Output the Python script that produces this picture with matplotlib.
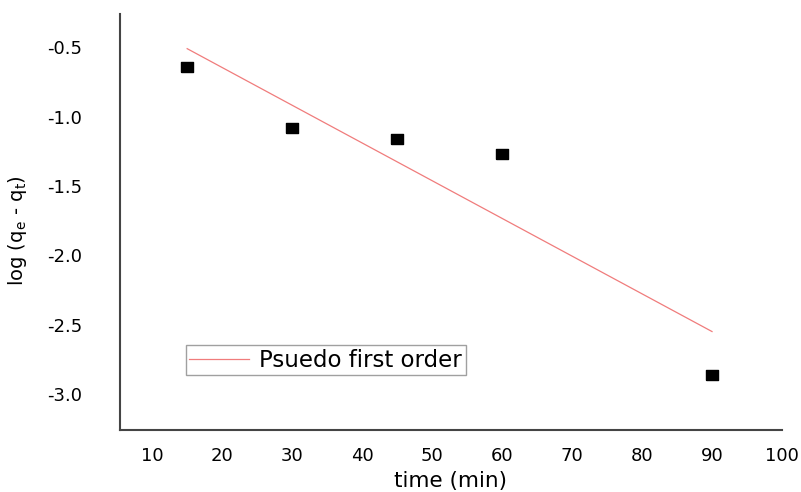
import matplotlib
matplotlib.use("Agg")
from matplotlib import pyplot as plt

# data
time_min = [15, 30, 45, 60, 90]
log_qe_qt = [-0.64, -1.08, -1.16, -1.27, -2.86]

fit_time = [15, 90]
fit_values = [-0.51, -2.55]

x_ticks = [10, 20, 30, 40, 50, 60, 70, 80, 90, 100]
y_ticks = [-0.5, -1.0, -1.5, -2.0, -2.5, -3.0]

plt.rcParams['font.family'] = ['DejaVu Sans']
plt.rcParams['mathtext.default'] = 'regular'

fig = plt.figure(figsize=(8.01, 4.92), dpi=100)
ax = fig.add_axes([120/801, 62/492, 662/801, 416/492])

# slightly flat square marker, like the original
rect = [(-1, -0.75), (1, -0.75), (1, 0.75), (-1, 0.75), (-1, -0.75)]

ax.plot(fit_time, fit_values, '-', color='#f07c7c', lw=0.9, label='Psuedo first order')
ax.plot(time_min, log_qe_qt, ls='none', marker=rect, color='black', ms=9,
        mec='black', label='_nolegend_')

ax.set_xlim(5.4, 100)
ax.set_ylim(-3.26, -0.26)
ax.set_xticks(x_ticks)
ax.set_yticks(y_ticks)
ax.set_xticklabels([str(t) for t in x_ticks])
ax.set_yticklabels(['%.1f' % v for v in y_ticks])
ax.tick_params(axis='both', length=0, labelsize=13)
ax.tick_params(axis='x', pad=12)
ax.tick_params(axis='y', pad=27)

for side in ['top', 'right']:
    ax.spines[side].set_visible(False)
for side in ['left', 'bottom']:
    ax.spines[side].set_color('#444444')
    ax.spines[side].set_linewidth(1.5)

ax.set_xlabel('time (min)', fontsize=15.5)
ax.xaxis.set_label_coords(0.5, -41/416, transform=ax.transAxes)
ax.set_ylabel('log (q$_e$ - q$_t$)', fontsize=14)
ax.yaxis.set_label_coords(-91/662, 0.48, transform=ax.transAxes)

leg = ax.legend(loc='lower left', bbox_to_anchor=(66/662, 55/416), fontsize=16.5,
                frameon=True, fancybox=False, handlelength=2.6, borderpad=0.15,
                handletextpad=0.45, borderaxespad=0)
leg.get_frame().set_edgecolor('#888888')
leg.get_frame().set_linewidth(1.0)

plt.savefig('out.png', dpi=100)
